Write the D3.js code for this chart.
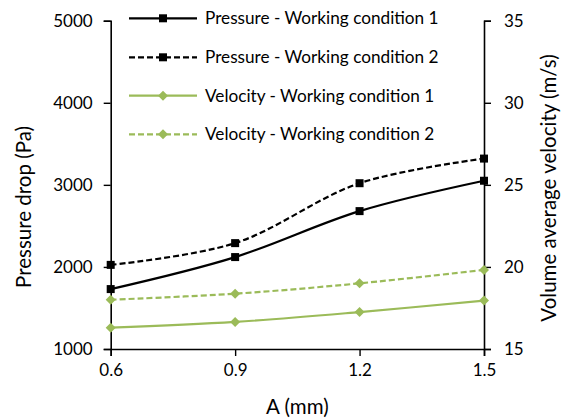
<!DOCTYPE html>
<html>
<head>
<meta charset="utf-8">
<script src="https://cdn.jsdelivr.net/npm/d3@7"></script>
<style>
  body { margin: 0; background: #fff; }
  text { font-family: Lato, "Open Sans", sans-serif; fill: #000; }
</style>
</head>
<body>
<svg id="chart" width="567" height="418"></svg>
<script>
// data
let A = [0.6, 0.9, 1.2, 1.5]; // [mm]
let pressure1 = [1730, 2120, 2680, 3050]; // [Pa]
let pressure2 = [2025, 2290, 3020, 3320]; // [Pa]
let velocity1 = [16.3, 16.65, 17.25, 17.95]; // [m/s]
let velocity2 = [18.0, 18.37, 19.0, 19.82]; // [m/s]

let xTicks = [0.6, 0.9, 1.2, 1.5];
let yTicks = [1000, 2000, 3000, 4000, 5000];
let y2Ticks = [15, 20, 25, 30, 35];

let green = "#9BBB59";

let series = [
    {name: "Pressure - Working condition 1", values: pressure1, axis: "left", color: "#000", dash: null, marker: "square"},
    {name: "Pressure - Working condition 2", values: pressure2, axis: "left", color: "#000", dash: "6,3", marker: "square"},
    {name: "Velocity - Working condition 1", values: velocity1, axis: "right", color: green, dash: null, marker: "diamond"},
    {name: "Velocity - Working condition 2", values: velocity2, axis: "right", color: green, dash: "6,3", marker: "diamond"}
];

let margin = {top: 20.7, right: 83, bottom: 69, left: 110.7};
let width = 567, height = 418;

let svg = d3.select("#chart");

let xScale = d3.scaleLinear()
    .domain([0.6, 1.5])
    .range([margin.left, width - margin.right]);

let yScale = d3.scaleLinear()
    .domain([1000, 5000])
    .range([height - margin.bottom, margin.top]);

let y2Scale = d3.scaleLinear()
    .domain([15, 35])
    .range([height - margin.bottom, margin.top]);

// axes
let xAxis = d3.axisBottom(xScale).tickValues(xTicks).tickFormat(d3.format(".1f")).tickSizeOuter(0).tickSize(7).tickPadding(8);
let yAxis = d3.axisLeft(yScale).tickValues(yTicks).tickFormat(d3.format("d")).tickSizeOuter(0).tickSize(7).tickPadding(11);
let y2Axis = d3.axisRight(y2Scale).tickValues(y2Ticks).tickSizeOuter(0).tickSize(7).tickPadding(13);

function styleAxis(g) {
    g.select(".domain").attr("stroke", "#000").attr("stroke-width", 1.6);
    g.selectAll(".tick line").attr("stroke", "#000").attr("stroke-width", 1.4);
    g.selectAll(".tick text").style("font-size", "17px").attr("fill", "#000");
}

svg.append("g")
    .attr("transform", `translate(0,${height - margin.bottom})`)
    .call(xAxis)
    .call(styleAxis);

svg.append("g")
    .attr("transform", `translate(${margin.left},0)`)
    .call(yAxis)
    .call(styleAxis);

svg.append("g")
    .attr("transform", `translate(${width - margin.right},0)`)
    .call(y2Axis)
    .call(styleAxis);

// axis titles
svg.append("text")
    .attr("x", xScale(1.05))
    .attr("y", 414)
    .attr("text-anchor", "middle")
    .style("font-size", "20.5px")
    .text("A (mm)");

svg.append("text")
    .attr("transform", "translate(31,207) rotate(-90)")
    .attr("text-anchor", "middle")
    .style("font-size", "20.5px")
    .text("Pressure drop (Pa)");

svg.append("text")
    .attr("transform", "translate(556,188) rotate(-90)")
    .attr("text-anchor", "middle")
    .style("font-size", "20.5px")
    .text("Volume average velocity (m/s)");

// lines
let linesG = svg.append("g");

function drawMarker(g, type, x, y, color) {
    if (type === "square") {
        g.append("rect")
            .attr("x", x - 4).attr("y", y - 4)
            .attr("width", 8).attr("height", 8)
            .attr("fill", color);
    } else {
        g.append("path")
            .attr("d", `M${x},${y - 5}L${x + 5},${y}L${x},${y + 5}L${x - 5},${y}Z`)
            .attr("fill", color);
    }
}

series.forEach(s => {
    let ys = s.axis === "left" ? yScale : y2Scale;
    let line = d3.line()
        .x((d, i) => xScale(A[i]))
        .y(d => ys(d))
        .curve(d3.curveCatmullRom.alpha(0.5));

    linesG.append("path")
        .datum(s.values)
        .attr("fill", "none")
        .attr("stroke", s.color)
        .attr("stroke-width", 2.2)
        .attr("stroke-dasharray", s.dash)
        .attr("d", line);

    s.values.forEach((v, i) => drawMarker(linesG, s.marker, xScale(A[i]), ys(v), s.color));
});

// legend
let legendRows = [18.3, 57.3, 95.7, 134.3];
let legend = svg.append("g");
series.forEach((s, i) => {
    let y = legendRows[i];
    legend.append("line")
        .attr("x1", 129).attr("x2", 197)
        .attr("y1", y).attr("y2", y)
        .attr("stroke", s.color)
        .attr("stroke-width", 2.2)
        .attr("stroke-dasharray", s.dash);
    drawMarker(legend, s.marker, 163, y, s.color);
    legend.append("text")
        .attr("x", 205)
        .attr("y", y)
        .attr("dy", "0.35em")
        .style("font-size", "17.2px")
        .text(s.name);
});
</script>
</body>
</html>
